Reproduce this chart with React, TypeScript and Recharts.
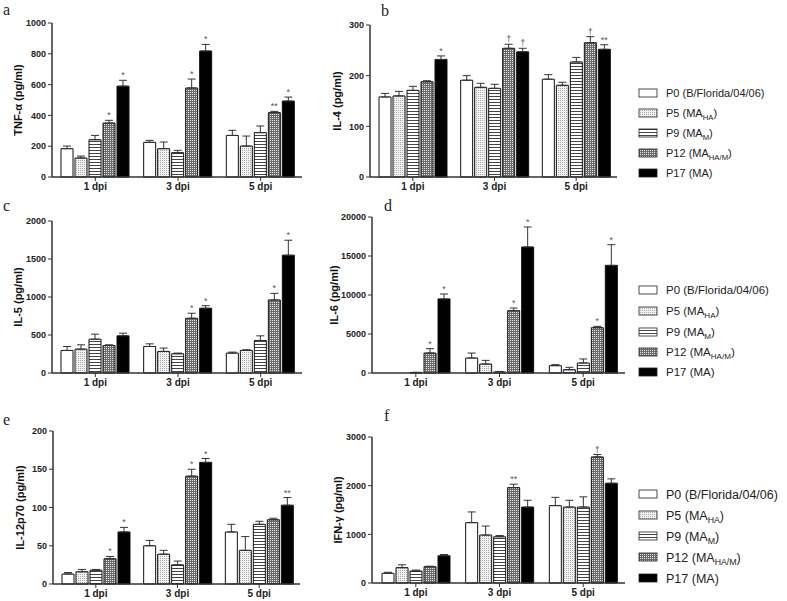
import React from 'react';
import { BarChart, Bar, XAxis, YAxis, ErrorBar, LabelList } from 'recharts';

const days = ['1 dpi', '3 dpi', '5 dpi'];
const seriesNames = ['P0', 'P5', 'P9', 'P12', 'P17'];
const seriesTags = ['B/Florida/04/06', 'MA', 'MA', 'MA', 'MA'];
const seriesSubs = ['', 'HA', 'M', 'HA/M', ''];

// rows = series (P0..P17), columns = days
const tnfMean = [[184, 225, 270], [123, 184, 201], [242, 158, 288], [350, 578, 418], [590, 818, 493]];
const tnfSem = [[17, 13, 33], [13, 43, 65], [28, 15, 43], [18, 58, 8], [38, 43, 26]];
const tnfSig = [['', '', ''], ['', '', ''], ['', '', ''], ['*', '*', '**'], ['*', '*', '*']];

const il4Mean = [[158, 191, 193], [160, 177, 181], [171, 175, 227], [188, 254, 265], [232, 247, 252]];
const il4Sem = [[7, 9, 9], [9, 8, 6], [8, 8, 9], [2, 8, 12], [7, 7, 9]];
const il4Sig = [['', '', ''], ['', '', ''], ['', '', ''], ['', '†', '†'], ['*', '†', '**']];

const il5Mean = [[297, 349, 262], [314, 284, 297], [445, 253, 428], [362, 720, 961], [489, 852, 1550]];
const il5Sem = [[52, 35, 13], [57, 44, 9], [66, 9, 61], [9, 66, 87], [35, 34, 197]];
const il5Sig = [['', '', ''], ['', '', ''], ['', '', ''], ['', '*', '*'], ['', '*', '*']];

const il6Mean = [[0, 1920, 940], [0, 1150, 430], [60, 130, 1280], [2560, 7990, 5810], [9490, 16150, 13800]];
const il6Sem = [[0, 640, 130], [0, 470, 300], [40, 70, 520], [560, 340, 170], [640, 2570, 2650]];
const il6Sig = [['', '', ''], ['', '', ''], ['', '', ''], ['*', '*', '*'], ['*', '*', '*']];

const il12Mean = [[13, 50, 68], [16, 39, 44], [18, 25, 78], [33, 141, 84], [68, 159, 103]];
const il12Sem = [[2, 7, 10], [3, 5, 18], [1, 5, 4], [3, 9, 2], [6, 5, 10]];
const il12Sig = [['', '', ''], ['', '', ''], ['', '', ''], ['*', '*', ''], ['*', '*', '**']];

const ifnMean = [[200, 1240, 1590], [315, 985, 1560], [245, 950, 1560], [335, 1960, 2590], [560, 1560, 2050]];
const ifnSem = [[20, 220, 170], [60, 185, 140], [20, 25, 210], [10, 70, 50], [25, 140, 90]];
const ifnSig = [['', '', ''], ['', '', ''], ['', '', ''], ['', '**', '†'], ['', '', '']];

const fills = ['#ffffff', 'url(#pDot)', 'url(#pStripe)', 'url(#pCheck)', '#000000'];
const SANS = '"Liberation Sans", Arial, sans-serif';
const SERIF = '"Liberation Serif", "Times New Roman", serif';

function buildRows(mean: number[][], sem: number[][], sig: string[][]) {
  return days.map((d, i) => {
    const row: any = { day: d };
    mean.forEach((m, k) => {
      row['m' + k] = m[i];
      row['e' + k] = [0, sem[k][i]];
      row['s' + k] = sig[k][i];
    });
    return row;
  });
}

const markContent = (rows: any[], k: number) => (props: any) => {
  const vb = props.viewBox && props.viewBox.width != null ? props.viewBox : props;
  const { x, y, width } = vb;
  const height = Math.abs(vb.height);
  const row = rows[props.index];
  if (!row) return null;
  const v = row['m' + k];
  const txt = row['s' + k];
  if (!txt || !v || !height) return null;
  const top = y - row['e' + k][1] * (height / v);
  return (
    <text x={x + width / 2} y={top - 2} textAnchor="middle" fontSize={9} fill="#555" fontFamily={SANS}>
      {txt}
    </text>
  );
};

const yLabel = (text: string, cx: number) => (props: any) => {
  const vb = props.viewBox;
  const cy = vb.y + vb.height / 2;
  return (
    <text x={cx} y={cy} transform={`rotate(-90 ${cx} ${cy})`} textAnchor="middle" dominantBaseline="central"
      fontSize={11} fontWeight="bold" fill="#111" fontFamily={SANS}>
      {text}
    </text>
  );
};

type PanelProps = {
  left: number; top: number; axisX: number; plotTop: number; zero: number; plotRight: number;
  max: number; ticks: number[]; rows: any[]; ylabel: string; labelX: number;
};

function Panel(p: PanelProps) {
  const width = p.plotRight + 6 - p.left;
  const height = p.zero + 26 - p.top;
  return (
    <div style={{ position: 'absolute', left: p.left, top: p.top }}>
      <BarChart width={width} height={height} data={p.rows} barSize={12} barGap={2}
        margin={{ top: p.plotTop - p.top, right: 6, bottom: 0, left: 0 }}>
        <XAxis dataKey="day" height={26} tickSize={4} padding={{ left: 2, right: 0 }}
          axisLine={{ stroke: '#333', strokeWidth: 1.5 }} tickLine={{ stroke: '#333' }}
          tick={{ fontSize: 10, fill: '#222', fontWeight: 'bold', fontFamily: SANS }} />
        <YAxis type="number" width={p.axisX - p.left} domain={[0, p.max]} ticks={p.ticks} interval={0} tickSize={4}
          axisLine={{ stroke: '#333', strokeWidth: 1.5 }} tickLine={{ stroke: '#333' }}
          tick={{ fontSize: 9, fill: '#222', fontWeight: 'bold', fontFamily: SANS }}
          label={yLabel(p.ylabel, p.labelX - p.left)} />
        {seriesNames.map((s, k) => (
          <Bar key={s} dataKey={'m' + k} fill={fills[k]} stroke="#111" strokeWidth={1} isAnimationActive={false}>
            <ErrorBar dataKey={'e' + k} width={4} stroke="#333" strokeWidth={1} direction="y" />
            <LabelList dataKey={'s' + k} content={markContent(p.rows, k)} />
          </Bar>
        ))}
      </BarChart>
    </div>
  );
}

function Legend({ x, rows, fontSize }: { x: number; rows: number[]; fontSize: number }) {
  return (
    <g fontFamily={SANS} fill="#222">
      {seriesNames.map((s, k) => (
        <g key={s}>
          <rect x={x} y={rows[k] - 4} width={18} height={8} fill={fills[k]} stroke="#222" strokeWidth={0.8} />
          <text x={x + 27} y={rows[k] + fontSize * 0.36} fontSize={fontSize}>
            {s} ({seriesTags[k]}
            {seriesSubs[k] ? <tspan dy={3} fontSize={fontSize * 0.7}>{seriesSubs[k]}</tspan> : null}
            {seriesSubs[k] ? <tspan dy={-3}>)</tspan> : ')'}
          </text>
        </g>
      ))}
    </g>
  );
}

export default function App() {
  const tnf = buildRows(tnfMean, tnfSem, tnfSig);
  const il4 = buildRows(il4Mean, il4Sem, il4Sig);
  const il5 = buildRows(il5Mean, il5Sem, il5Sig);
  const il6 = buildRows(il6Mean, il6Sem, il6Sig);
  const il12 = buildRows(il12Mean, il12Sem, il12Sig);
  const ifn = buildRows(ifnMean, ifnSem, ifnSig);

  return (
    <div style={{ position: 'absolute', left: 0, top: 0, width: 787, height: 601, background: '#fff', overflow: 'hidden' }}>
      <Panel left={0} top={0} axisX={52} plotTop={23} zero={177} plotRight={302} max={1000}
        ticks={[0, 200, 400, 600, 800, 1000]} rows={tnf} ylabel="TNF-α (pg/ml)" labelX={18} />
      <Panel left={320} top={0} axisX={370} plotTop={25} zero={177} plotRight={617} max={300}
        ticks={[0, 100, 200, 300]} rows={il4} ylabel="IL-4 (pg/ml)" labelX={337} />
      <Panel left={0} top={200} axisX={52} plotTop={221} zero={373} plotRight={302} max={2000}
        ticks={[0, 500, 1000, 1500, 2000]} rows={il5} ylabel="IL-5 (pg/ml)" labelX={18} />
      <Panel left={320} top={200} axisX={372} plotTop={217} zero={373} plotRight={625} max={20000}
        ticks={[0, 5000, 10000, 15000, 20000]} rows={il6} ylabel="IL-6 (pg/ml)" labelX={334} />
      <Panel left={0} top={400} axisX={53} plotTop={431} zero={584} plotRight={300} max={200}
        ticks={[0, 50, 100, 150, 200]} rows={il12} ylabel="IL-12p70 (pg/ml)" labelX={20} />
      <Panel left={320} top={400} axisX={372} plotTop={437} zero={583} plotRight={625} max={3000}
        ticks={[0, 1000, 2000, 3000]} rows={ifn} ylabel="IFN-γ (pg/ml)" labelX={338} />

      <svg width={787} height={601} style={{ position: 'absolute', left: 0, top: 0, pointerEvents: 'none' }}>
        <defs>
          <pattern id="pDot" width={2} height={2} patternUnits="userSpaceOnUse">
            <rect width={2} height={2} fill="#f2f2f2" />
            <rect x={0} y={0} width={1} height={1} fill="#aaaaaa" />
          </pattern>
          <pattern id="pStripe" width={4} height={3} patternUnits="userSpaceOnUse">
            <rect width={4} height={3} fill="#ffffff" />
            <rect x={0} y={0} width={4} height={1} fill="#444444" />
          </pattern>
          <pattern id="pCheck" width={2} height={2} patternUnits="userSpaceOnUse">
            <rect width={2} height={2} fill="#6a6a6a" />
            <rect x={0} y={0} width={1} height={1} fill="#e6e6e6" />
          </pattern>
        </defs>
        <g fontFamily={SERIF} fontSize={16} fill="#222">
          <text x={3} y={15}>a</text>
          <text x={381} y={16}>b</text>
          <text x={3} y={211}>c</text>
          <text x={384} y={211}>d</text>
          <text x={3} y={425}>e</text>
          <text x={384} y={421}>f</text>
        </g>
        <Legend x={639} rows={[93, 113, 133, 153, 173]} fontSize={11} />
        <Legend x={639} rows={[290, 311, 332, 352, 372]} fontSize={11.5} />
        <Legend x={639} rows={[494, 515, 536, 557, 578]} fontSize={12.5} />
      </svg>
    </div>
  );
}
